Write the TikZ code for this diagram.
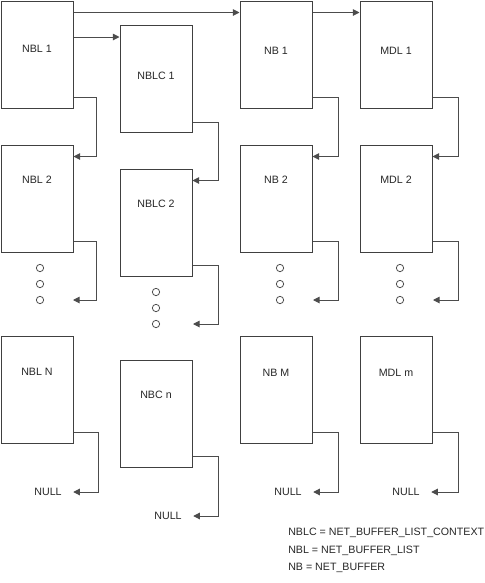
\documentclass[tikz,border=0pt]{standalone}
\usepackage{fontspec}
\setmainfont{Liberation Sans}
\usepackage{tikz}
\usetikzlibrary{calc,arrows.meta}

\begin{document}
\begin{tikzpicture}[x=0.75pt,y=-0.75pt]
\tikzstyle{buf}=[rectangle,draw=black!75,line width=0.75pt,minimum width=54pt,minimum height=80.25pt,inner sep=0pt]
\tikzstyle{lbl}=[rectangle,text=black!85,font=\fontsize{8}{9.6}\selectfont,inner sep=0pt]
\tikzstyle{nullt}=[lbl,inner xsep=8.5pt]
\tikzstyle{link}=[draw=black!70,line width=0.75pt,-{Triangle[length=5pt,width=5pt]}]
\tikzstyle{dot}=[circle,draw=black!70,line width=0.6pt,minimum size=5.5pt,inner sep=0pt]
\useasboundingbox (0,0) rectangle (485,583);
% boxes
\node [buf] (nbl1) at (37,54.5) {};
\node [buf] (nbl2) at (37,198.5) {};
\node [buf] (nbln) at (37,390) {};
\node [buf] (nblc1) at (156,79) {};
\node [buf] (nblc2) at (156,222.5) {};
\node [buf] (nbcn) at (156,414) {};
\node [buf] (nb1) at (276,54.5) {};
\node [buf] (nb2) at (276,198.5) {};
\node [buf] (nbm) at (276,390) {};
\node [buf] (mdl1) at (396,54.5) {};
\node [buf] (mdl2) at (396,198.5) {};
\node [buf] (mdlm) at (396,390) {};
% labels
\node [lbl] (tnbl1) at (37,49) {NBL 1};
\node [lbl] (tnbl2) at (37,180) {NBL 2};
\node [lbl] (tnbln) at (37,372) {NBL N};
\node [lbl] (tnblc1) at (156,76) {NBLC 1};
\node [lbl] (tnblc2) at (156,204) {NBLC 2};
\node [lbl] (tnbcn) at (156,395) {NBC n};
\node [lbl] (tnb1) at (276,51) {NB 1};
\node [lbl] (tnb2) at (276,180) {NB 2};
\node [lbl] (tnbm) at (276,373) {NB M};
\node [lbl] (tmdl1) at (396,51) {MDL 1};
\node [lbl] (tmdl2) at (396,180) {MDL 2};
\node [lbl] (tmdlm) at (396,373) {MDL m};
% dots
\foreach \x/\y/\c in {40/268/a,156/292/b,280/268/c,400/268/d}{
  \node [dot] (d\c1) at (\x,\y) {};
  \node [dot] (d\c2) at (\x,\y+16) {};
  \node [dot] (d\c3) at (\x,\y+32) {};
}
% NULL
\node [nullt] (null1) at (48,492) {NULL};
\node [nullt] (null2) at (168,516) {NULL};
\node [nullt] (null3) at (288,492) {NULL};
\node [nullt] (null4) at (406,492) {NULL};
% arrow ends beside the dots
\coordinate (e1) at (73,300);
\coordinate (e2) at (193,324);
\coordinate (e3) at (313,300);
\coordinate (e4) at (433,300);
% across
\coordinate (in1) at ([yshift=-9pt]nblc1.north west);
\coordinate (in2) at ([yshift=-9pt]nb1.north west);
\coordinate (in3) at ([yshift=-9pt]mdl1.north west);
\draw [link] (nbl1.east |- in2) -- (in2);
\draw [link] (nbl1.east |- in1) -- (in1);
\draw [link] (nb1.east |- in3) -- (in3);
% down the lists
\draw [link] ([yshift=8.25pt]nbl1.south east) -- ++(23,0) |- ([yshift=-9pt]nbl2.north east);
\draw [link] ([yshift=8.25pt]nblc1.south east) -- ++(26,0) |- ([yshift=-9pt]nblc2.north east);
\draw [link] ([yshift=8.25pt]nb1.south east) -- ++(26,0) |- ([yshift=-9pt]nb2.north east);
\draw [link] ([yshift=8.25pt]mdl1.south east) -- ++(26,0) |- ([yshift=-9pt]mdl2.north east);
\draw [link] ([yshift=8.25pt]nbl2.south east) -- ++(23,0) |- (e1);
\draw [link] ([yshift=8.25pt]nblc2.south east) -- ++(26,0) |- (e2);
\draw [link] ([yshift=8.25pt]nb2.south east) -- ++(26,0) |- (e3);
\draw [link] ([yshift=8.25pt]mdl2.south east) -- ++(26,0) |- (e4);
\draw [link] ([yshift=9pt]nbln.south east) -- ++(25,0) |- (null1);
\draw [link] ([yshift=9pt]nbcn.south east) -- ++(26,0) |- (null2);
\draw [link] ([yshift=9pt]nbm.south east) -- ++(26,0) |- (null3);
\draw [link] ([yshift=9pt]mdlm.south east) -- ++(26,0) |- (null4);
% legend
\node [lbl,anchor=west] (key1) at (288,533) {NBLC = NET\_BUFFER\_LIST\_CONTEXT};
\node [lbl,anchor=west] (key2) at (288,551) {NBL = NET\_BUFFER\_LIST};
\node [lbl,anchor=west] (key3) at (288,568) {NB = NET\_BUFFER};
\end{tikzpicture}
\end{document}
